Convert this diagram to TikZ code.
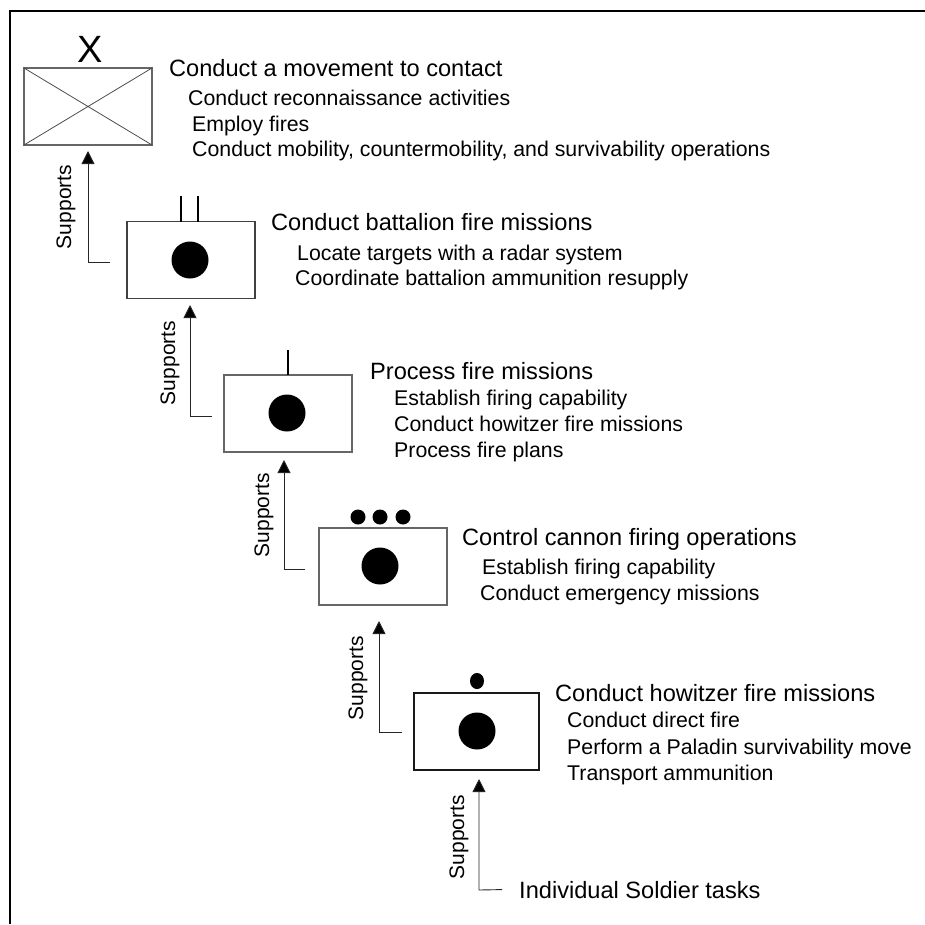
\documentclass[tikz,border=0pt]{standalone}
\usepackage{fontspec}
\setmainfont{Liberation Sans}
\usetikzlibrary{arrows.meta}
\tikzset{
    unitbox/.style={draw=#1,line width=1.2pt,minimum width=128pt,minimum height=77pt,inner sep=0pt,outer sep=0pt},
    unitbox/.default=black!75,
    bigdot/.style={circle,fill=black,inner sep=0pt,outer sep=0pt,minimum size=37pt},
    smalldot/.style={circle,fill=black,inner sep=0pt,outer sep=0pt,minimum size=15pt},
    heading/.style={anchor=base west,inner sep=0pt,font=\fontsize{23.6}{26}\selectfont},
    task/.style={anchor=base west,inner sep=0pt,font=\fontsize{21.3}{24}\selectfont},
    supports/.style={rotate=90,inner sep=0pt,font=\fontsize{21}{24}\selectfont},
    link/.style={line width=0.9pt,black!85,-{Triangle[length=13pt,width=13pt,fill=black]}},
}
\begin{document}
\begin{tikzpicture}[x=1pt,y=-1pt]
    \useasboundingbox (0,0) rectangle (925,924);
    \coordinate (frametop) at (925,11);
    \coordinate (framecorner) at (10,11);
    \coordinate (framebottom) at (10,924);
    \draw[line width=1.2pt] (frametop) -- (framecorner) -- (framebottom);

    % echelon boxes
    \node[unitbox=black!60] (brigade) at (88,106.5) {};
    \node[unitbox] (battalion) at (191,260) {};
    \node[unitbox=black!60] (battery) at (288,413.5) {};
    \node[unitbox=black!60] (platoon) at (383,566.5) {};
    \node[unitbox=black!90,minimum width=125pt] (section) at (476.5,731.5) {};

    % brigade
    \draw[black!70,line width=0.8pt] (brigade.north west) -- (brigade.south east) (brigade.north east) -- (brigade.south west);
    \node[font=\fontsize{38}{40}\selectfont,inner sep=0pt] (brigademark) at (90,49) {X};
    \node[heading] (brigadehead) at (169,76) {Conduct a movement to contact};
    \node[task] (brigadea) at (188,105) {Conduct reconnaissance activities};
    \node[task] (brigadeb) at (192,131) {Employ fires};
    \node[task] (brigadec) at (192,156) {Conduct mobility, countermobility, and survivability operations};

    % battalion
    \node[bigdot] (battaliondot) at (190,260) {};
    \draw[line width=1.1pt] ([xshift=-10pt]battalion.north) -- ++(0,-26) ([xshift=7pt]battalion.north) -- ++(0,-26);
    \node[heading] (battalionhead) at (271,230) {Conduct battalion fire missions};
    \node[task] (battaliona) at (297,260) {Locate targets with a radar system};
    \node[task] (battalionb) at (295,285) {Coordinate battalion ammunition resupply};

    % battery
    \node[bigdot] (batterydot) at (287,413) {};
    \draw[line width=1.1pt] (battery.north) -- ++(0,-25);
    \node[heading] (batteryhead) at (370,379) {Process fire missions};
    \node[task] (batterya) at (394,405) {Establish firing capability};
    \node[task] (batteryb) at (394,431) {Conduct howitzer fire missions};
    \node[task] (batteryc) at (394,457) {Process fire plans};

    % platoon
    \node[bigdot] (platoondot) at (380,566) {};
    \node[smalldot] (platoona) at (358,517) {};
    \node[smalldot] (platoonb) at (380,517) {};
    \node[smalldot] (platoonc) at (403,517) {};
    \node[heading] (platoonhead) at (462,545) {Control cannon firing operations};
    \node[task] (platoontaska) at (482,574) {Establish firing capability};
    \node[task] (platoontaskb) at (480,600) {Conduct emergency missions};

    % section
    \node[bigdot] (sectiondot) at (477,731) {};
    \node[smalldot,minimum size=14pt,yscale=1.15] (sectionmark) at (477,681) {};
    \node[heading] (sectionhead) at (555,701) {Conduct howitzer fire missions};
    \node[task] (sectiona) at (567,727) {Conduct direct fire};
    \node[task] (sectionb) at (567,754) {Perform a Paladin survivability move};
    \node[task] (sectionc) at (567,780) {Transport ammunition};

    \node[heading] (soldier) at (519,898) {Individual Soldier tasks};

    % supports arrows
    \coordinate (linkastart) at (110,262);
    \coordinate (linkabend) at (88,262);
    \coordinate (linkatip) at (88,151);
    \draw[link] (linkastart) -- (linkabend) -- (linkatip);
    \node[supports] (supportsa) at (66,207) {Supports};

    \coordinate (linkbstart) at (212,416);
    \coordinate (linkbbend) at (190,416);
    \coordinate (linkbtip) at (190,305);
    \draw[link] (linkbstart) -- (linkbbend) -- (linkbtip);
    \node[supports] (supportsb) at (170,363) {Supports};

    \coordinate (linkcstart) at (305,569);
    \coordinate (linkcbend) at (284,569);
    \coordinate (linkctip) at (284,460);
    \draw[link] (linkcstart) -- (linkcbend) -- (linkctip);
    \node[supports] (supportsc) at (264,515) {Supports};

    \coordinate (linkdstart) at (402,732);
    \coordinate (linkdbend) at (379,732);
    \coordinate (linkdtip) at (379,621);
    \draw[link] (linkdstart) -- (linkdbend) -- (linkdtip);
    \node[supports] (supportsd) at (358,678) {Supports};

    \coordinate (linkebend) at (479,890);
    \coordinate (linketip) at (479,779);
    \draw[link] ([xshift=-17pt]soldier.west) -- (linkebend) -- (linketip);
    \node[supports] (supportse) at (459,837) {Supports};
\end{tikzpicture}
\end{document}
